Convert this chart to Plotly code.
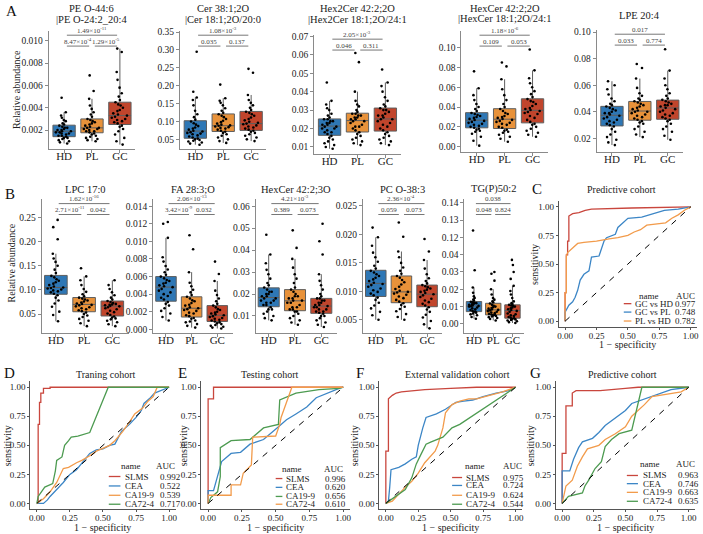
import plotly.graph_objects as go

W, H = 703, 534
SERIF = "Liberation Serif"

GROUPS = ["HD", "PL", "GC"]
BOX_FILL = ["#2e77b5", "#e8923a", "#c1452c"]
RED, BLUE, ORANGE, GREEN = "#c9463d", "#3c86c6", "#f29b4b", "#4d9b51"

# ===================== box-plot data =====================
PANEL_NAMES = ["PE O-44:6", "Cer 38:1;2O", "Hex2Cer 42:2;2O", "HexCer 42:2;2O", "LPE 20:4",
               "LPC 17:0", "FA 28:3;O", "HexCer 42:2;3O", "PC O-38:3", "TG(P)50:2"]
PANEL_SUB = ["|PE O-24:2_20:4", "|Cer 18:1;2O/20:0", "|Hex2Cer 18:1;2O/24:1",
             "|HexCer 18:1;2O/24:1", "", "", "", "", "", ""]
P_HD_GC = ["1.49×10<sup>-11</sup>", "1.08×10<sup>-3</sup>", "2.05×10<sup>-3</sup>", "1.18×10<sup>-6</sup>", "0.017",
           "1.62×10<sup>-16</sup>", "2.06×10<sup>-13</sup>", "4.21×10<sup>-3</sup>", "2.36×10<sup>-4</sup>", "0.038"]
P_HD_PL = ["8.47×10<sup>-4</sup>", "0.035", "0.046", "0.109", "0.033",
           "2.71×10<sup>-11</sup>", "3.42×10<sup>-9</sup>", "0.389", "0.059", "0.048"]
P_PL_GC = ["1.29×10<sup>-5</sup>", "0.137", "0.311", "0.053", "0.774",
           "0.042", "0.032", "0.073", "0.073", "0.824"]

PE_HD = [0.0008,0.0009,0.0010,0.0011,0.0012,0.0013,0.0013,0.0014,0.0015,0.0015,0.0016,0.0017,0.0017,0.0018,0.0018,0.0019,
         0.0019,0.0020,0.0020,0.0021,0.0022,0.0022,0.0023,0.0024,0.0025,0.0026,0.0028,0.0029,0.0031,0.0033,0.0036,0.0049]
PE_PL = [0.0010,0.0011,0.0012,0.0013,0.0014,0.0015,0.0016,0.0017,0.0018,0.0019,0.0019,0.0020,0.0021,0.0021,0.0022,0.0022,
         0.0023,0.0024,0.0025,0.0026,0.0027,0.0028,0.0029,0.0030,0.0032,0.0034,0.0036,0.0039,0.0042,0.0048,0.0055,0.0069]
PE_GC = [0.0007,0.0010,0.0013,0.0016,0.0019,0.0021,0.0023,0.0024,0.0026,0.0027,0.0028,0.0029,0.0030,0.0031,0.0032,0.0033,
         0.0034,0.0035,0.0037,0.0038,0.0040,0.0042,0.0043,0.0045,0.0047,0.0050,0.0053,0.0058,0.0065,0.0072,0.0090,0.0093]
PE_STATS = [[0.0008,0.00141,0.0019,0.00244,0.0036],[0.0010,0.00176,0.0022,0.0030,0.0048],[0.0007,0.0025,0.0033,0.0045,0.0093]]

CER_HD = [0.035,0.038,0.041,0.044,0.046,0.048,0.050,0.052,0.055,0.058,0.061,0.064,0.066,0.068,0.070,0.072,
          0.074,0.077,0.080,0.083,0.087,0.091,0.095,0.100,0.105,0.112,0.120,0.130,0.145,0.160,0.167,0.183,0.295]
CER_PL = [0.040,0.045,0.050,0.055,0.060,0.064,0.068,0.071,0.074,0.077,0.080,0.082,0.084,0.086,0.088,0.089,
          0.091,0.094,0.098,0.102,0.107,0.112,0.116,0.120,0.124,0.130,0.137,0.145,0.152,0.158,0.165,0.203]
CER_GC = [0.045,0.050,0.055,0.060,0.064,0.068,0.071,0.074,0.077,0.080,0.083,0.086,0.089,0.092,0.094,0.096,
          0.099,0.103,0.107,0.111,0.116,0.120,0.124,0.127,0.132,0.138,0.145,0.152,0.160,0.174,0.236,0.247]
CER_STATS = [[0.035,0.053,0.073,0.102,0.167],[0.040,0.072,0.088,0.121,0.165],[0.045,0.075,0.094,0.128,0.174]]

HEX2_HD = [0.009,0.010,0.011,0.012,0.013,0.014,0.015,0.016,0.017,0.018,0.018,0.019,0.020,0.020,0.021,0.021,
           0.022,0.022,0.023,0.023,0.024,0.024,0.025,0.025,0.026,0.027,0.028,0.030,0.031,0.033,0.035,0.045]
HEX2_PL = [0.011,0.012,0.013,0.014,0.015,0.016,0.017,0.018,0.019,0.020,0.021,0.021,0.022,0.023,0.024,0.024,
           0.025,0.025,0.026,0.026,0.027,0.027,0.028,0.028,0.029,0.030,0.032,0.033,0.035,0.040,0.056,0.061]
HEX2_GC = [0.011,0.012,0.013,0.014,0.015,0.016,0.017,0.018,0.019,0.020,0.021,0.022,0.023,0.024,0.025,0.025,
           0.026,0.027,0.027,0.028,0.029,0.030,0.030,0.031,0.032,0.033,0.035,0.037,0.040,0.043,0.045,0.052]
HEX2_STATS = [[0.009,0.0163,0.0213,0.0252,0.035],[0.011,0.0181,0.0243,0.0283,0.040],[0.011,0.0186,0.0252,0.0311,0.045]]

HEX_HD = [0.001,0.006,0.010,0.013,0.015,0.016,0.017,0.018,0.019,0.020,0.021,0.022,0.023,0.024,0.025,0.026,
          0.027,0.028,0.029,0.030,0.031,0.032,0.033,0.034,0.036,0.038,0.040,0.043,0.047,0.052,0.059,0.076]
HEX_PL = [0.005,0.008,0.010,0.012,0.014,0.015,0.016,0.017,0.019,0.020,0.022,0.023,0.024,0.025,0.026,0.027,
          0.028,0.029,0.030,0.031,0.033,0.034,0.036,0.038,0.040,0.043,0.047,0.052,0.058,0.068,0.081,0.085]
HEX_GC = [0.010,0.012,0.014,0.016,0.018,0.020,0.022,0.023,0.025,0.027,0.029,0.031,0.033,0.034,0.035,0.036,
          0.037,0.038,0.039,0.041,0.043,0.045,0.046,0.048,0.050,0.053,0.056,0.060,0.064,0.069,0.077,0.098]
HEX_STATS = [[0.001,0.019,0.0267,0.0343,0.059],[0.005,0.0183,0.0277,0.0383,0.068],[0.010,0.024,0.0367,0.0483,0.077]]

LPE_HD = [0.015,0.017,0.019,0.021,0.023,0.025,0.027,0.029,0.030,0.031,0.032,0.033,0.034,0.035,0.036,0.037,
          0.038,0.039,0.039,0.040,0.041,0.042,0.043,0.044,0.045,0.046,0.048,0.050,0.053,0.057,0.060,0.063]
LPE_PL = [0.021,0.023,0.025,0.027,0.029,0.031,0.032,0.033,0.034,0.035,0.036,0.037,0.038,0.039,0.040,0.040,
          0.041,0.042,0.043,0.044,0.045,0.046,0.047,0.048,0.049,0.050,0.052,0.054,0.058,0.065,0.073,0.076]
LPE_GC = [0.019,0.022,0.025,0.027,0.029,0.031,0.033,0.034,0.035,0.036,0.037,0.038,0.039,0.040,0.041,0.042,
          0.043,0.044,0.045,0.045,0.046,0.047,0.048,0.049,0.050,0.052,0.054,0.057,0.060,0.065,0.071,0.087]
LPE_STATS = [[0.015,0.0294,0.0374,0.0441,0.063],[0.021,0.0337,0.0406,0.0478,0.065],[0.019,0.0344,0.0429,0.0488,0.071]]

LPC_HD = [0.035,0.048,0.055,0.065,0.072,0.078,0.084,0.089,0.092,0.095,0.097,0.099,0.101,0.103,0.104,0.105,
          0.107,0.110,0.113,0.116,0.119,0.122,0.126,0.129,0.135,0.142,0.150,0.158,0.165,0.175,0.205,0.230,0.245]
LPC_PL = [0.025,0.031,0.036,0.040,0.044,0.047,0.050,0.053,0.056,0.058,0.060,0.062,0.064,0.066,0.068,0.069,
          0.071,0.072,0.074,0.076,0.078,0.080,0.082,0.084,0.087,0.091,0.096,0.102,0.110,0.120,0.128,0.145]
LPC_GC = [0.025,0.029,0.033,0.036,0.039,0.041,0.043,0.045,0.048,0.051,0.054,0.057,0.060,0.062,0.064,0.066,
          0.067,0.068,0.069,0.070,0.071,0.073,0.075,0.077,0.080,0.084,0.089,0.095,0.102,0.110,0.120]
LPC_STATS = [[0.035,0.091,0.105,0.130,0.175],[0.025,0.0548,0.070,0.0842,0.128],[0.025,0.046,0.0665,0.077,0.120]]

FA_HD = [0.0010,0.0014,0.0018,0.0021,0.0024,0.0027,0.0029,0.0031,0.0034,0.0036,0.0038,0.0040,0.0042,0.0044,0.0046,0.0048,
         0.0049,0.0050,0.0052,0.0053,0.0055,0.0056,0.0058,0.0060,0.0062,0.0065,0.0068,0.0072,0.0077,0.0082,0.0104,0.0120,0.0122]
FA_PL = [0.0002,0.0004,0.0006,0.0008,0.0009,0.0010,0.0012,0.0013,0.0015,0.0016,0.0018,0.0019,0.0021,0.0022,0.0023,0.0024,
         0.0025,0.0027,0.0028,0.0030,0.0032,0.0033,0.0035,0.0037,0.0039,0.0042,0.0045,0.0049,0.0053,0.0065,0.0091,0.0107]
FA_GC = [0.0001,0.0002,0.0003,0.0004,0.0005,0.0006,0.0007,0.0008,0.0009,0.0010,0.0011,0.0012,0.0013,0.0014,0.0015,0.0016,
         0.0017,0.0018,0.0019,0.0020,0.0022,0.0023,0.0025,0.0027,0.0029,0.0032,0.0035,0.0039,0.0044,0.0055,0.0063,0.0077]
FA_STATS = [[0.0010,0.0032,0.0048,0.0060,0.0104],[0.0002,0.0014,0.0024,0.0037,0.0065],[0.0001,0.0009,0.0016,0.0027,0.0055]]

HEX3_HD = [0.008,0.009,0.010,0.011,0.012,0.013,0.013,0.014,0.015,0.015,0.016,0.016,0.017,0.017,0.018,0.018,
           0.019,0.019,0.020,0.020,0.021,0.021,0.022,0.023,0.024,0.025,0.027,0.029,0.031,0.034,0.038,0.047]
HEX3_PL = [0.006,0.007,0.008,0.009,0.010,0.011,0.012,0.012,0.013,0.013,0.014,0.014,0.015,0.016,0.016,0.017,
           0.017,0.018,0.018,0.019,0.019,0.020,0.021,0.022,0.023,0.025,0.027,0.029,0.032,0.036,0.041,0.049]
HEX3_GC = [0.005,0.006,0.007,0.008,0.009,0.010,0.010,0.011,0.0115,0.012,0.012,0.013,0.013,0.014,0.014,0.0145,
           0.015,0.015,0.016,0.016,0.017,0.017,0.018,0.018,0.019,0.020,0.022,0.024,0.026,0.029,0.038,0.044,0.052]
HEX3_STATS = [[0.008,0.0142,0.0184,0.0228,0.038],[0.006,0.0124,0.0169,0.022,0.036],[0.005,0.0112,0.0145,0.018,0.029]]

PC_HD = [0.0050,0.0058,0.0064,0.0070,0.0075,0.0080,0.0085,0.0089,0.0093,0.0096,0.0099,0.0102,0.0105,0.0108,0.0111,0.0113,
         0.0115,0.0118,0.0121,0.0124,0.0127,0.0130,0.0133,0.0136,0.0140,0.0145,0.0152,0.0160,0.0168,0.0180,0.0195,0.0212]
PC_PL = [0.0050,0.0055,0.0060,0.0065,0.0069,0.0073,0.0076,0.0079,0.0082,0.0085,0.0088,0.0091,0.0094,0.0096,0.0098,0.0099,
         0.0101,0.0104,0.0108,0.0112,0.0116,0.0120,0.0124,0.0127,0.0131,0.0136,0.0142,0.0150,0.0160,0.0170,0.0196,0.0221]
PC_GC = [0.0035,0.0042,0.0048,0.0054,0.0059,0.0064,0.0068,0.0072,0.0075,0.0078,0.0081,0.0084,0.0087,0.0090,0.0093,0.0095,
         0.0097,0.0099,0.0101,0.0103,0.0105,0.0107,0.0109,0.0111,0.0114,0.0118,0.0123,0.0130,0.0140,0.0155,0.0170,0.0192]
PC_STATS = [[0.005,0.0091,0.0114,0.0137,0.0195],[0.005,0.008,0.0099,0.0127,0.017],[0.0035,0.0073,0.0095,0.0111,0.0155]]

TG_HD = [0.003,0.004,0.005,0.0055,0.006,0.0065,0.007,0.0072,0.0075,0.008,0.0085,0.009,0.0095,0.010,0.0102,0.0104,
         0.0106,0.011,0.0113,0.0116,0.012,0.0122,0.0125,0.0128,0.0135,0.014,0.015,0.016,0.018,0.021,0.031,0.124]
TG_PL = [0.002,0.0028,0.0034,0.0039,0.0043,0.0046,0.0049,0.0051,0.0054,0.0058,0.0062,0.0066,0.007,0.0074,0.0078,0.0081,
         0.0084,0.0088,0.0092,0.0096,0.010,0.0105,0.011,0.0118,0.0125,0.013,0.014,0.015,0.017,0.020,0.025,0.029,0.030]
TG_GC = [0.0005,0.001,0.0015,0.002,0.0023,0.0026,0.003,0.0032,0.0036,0.004,0.0045,0.005,0.0055,0.006,0.007,0.0075,
         0.008,0.0085,0.009,0.0095,0.010,0.0103,0.0106,0.011,0.0115,0.012,0.013,0.015,0.017,0.019,0.022,0.026,0.030,0.034,0.037]
TG_STATS = [[0.003,0.0071,0.0104,0.0129,0.021],[0.002,0.0052,0.0081,0.0119,0.020],[0.0005,0.0033,0.0077,0.011,0.022]]
TG_TICK_VALUES = [0.00, 0.01, 0.02, 0.03, 0.04, 0.12, 0.13, 0.14]
TG_TICK_LABELS = ["0.00", "0.01", "0.02", "0.03", "0.04", "0.12", "0.13", "0.14"]

PANEL_VALUES = [[PE_HD, PE_PL, PE_GC], [CER_HD, CER_PL, CER_GC], [HEX2_HD, HEX2_PL, HEX2_GC],
                [HEX_HD, HEX_PL, HEX_GC], [LPE_HD, LPE_PL, LPE_GC], [LPC_HD, LPC_PL, LPC_GC],
                [FA_HD, FA_PL, FA_GC], [HEX3_HD, HEX3_PL, HEX3_GC], [PC_HD, PC_PL, PC_GC], [TG_HD, TG_PL, TG_GC]]
PANEL_STATS = [PE_STATS, CER_STATS, HEX2_STATS, HEX_STATS, LPE_STATS,
               LPC_STATS, FA_STATS, HEX3_STATS, PC_STATS, TG_STATS]


def tg_pos(v):
    # broken y axis of the TG(P)50:2 panel (0.045-0.115 is cut out)
    return v - 0.07 if v > 0.08 else v


# ===================== ROC data =====================
C_GC_HD_FPR = [0, 0, 0.01, 0.01, 0.02, 0.02, 0.03, 0.03, 0.06, 0.11, 0.16, 0.21, 0.53, 0.82, 1.0]
C_GC_HD_TPR = [0, 0.25, 0.25, 0.58, 0.58, 0.70, 0.70, 0.92, 0.94, 0.95, 0.97, 0.98, 0.99, 1.0, 1.0]
C_GC_PL_FPR = [0, 0, 0.03, 0.06, 0.08, 0.10, 0.12, 0.15, 0.19, 0.21, 0.27, 0.29, 0.31, 0.33, 0.40, 0.42, 0.45, 0.50, 0.61, 0.71, 0.79, 0.90, 1.0]
C_GC_PL_TPR = [0, 0.08, 0.14, 0.17, 0.21, 0.27, 0.36, 0.41, 0.44, 0.56, 0.57, 0.63, 0.70, 0.73, 0.76, 0.82, 0.85, 0.90, 0.91, 0.94, 0.97, 0.98, 1.0]
C_PL_HD_FPR = [0, 0, 0.01, 0.01, 0.02, 0.05, 0.08, 0.10, 0.15, 0.25, 0.35, 0.42, 0.50, 0.55, 0.60, 0.65, 0.80, 0.85, 0.90, 0.95, 1.0]
C_PL_HD_TPR = [0, 0.25, 0.25, 0.57, 0.60, 0.63, 0.66, 0.68, 0.69, 0.70, 0.72, 0.73, 0.75, 0.78, 0.80, 0.84, 0.86, 0.90, 0.93, 0.97, 1.0]
C_NAMES = ["GC vs HD", "GC vs PL", "PL vs HD"]
C_AUC = ["0.977", "0.748", "0.782"]

MARKERS = ["SLMS", "CEA", "CA19-9", "CA72-4"]

D_SLMS_FPR = [0, 0.01, 0.01, 0.02, 0.02, 0.03, 0.03, 0.05, 0.05, 0.10, 0.10, 1.0]
D_SLMS_TPR = [0, 0, 0.68, 0.68, 0.87, 0.87, 0.95, 0.95, 0.99, 0.99, 1.0, 1.0]
D_CEA_FPR = [0, 0.05, 0.08, 0.10, 0.15, 0.20, 0.25, 0.30, 0.35, 0.40, 0.45, 0.50, 0.55, 0.59, 0.64, 0.70, 0.75, 0.79, 0.81, 0.85, 0.89, 0.95, 1.0]
D_CEA_TPR = [0, 0, 0.03, 0.06, 0.12, 0.18, 0.25, 0.29, 0.36, 0.43, 0.46, 0.47, 0.50, 0.51, 0.62, 0.68, 0.74, 0.80, 0.86, 0.90, 0.95, 0.98, 1.0]
D_CA199_FPR = [0, 0.05, 0.10, 0.15, 0.20, 0.24, 0.30, 0.34, 0.40, 0.45, 0.49, 0.55, 0.59, 0.65, 0.70, 0.74, 0.80, 0.84, 0.88, 0.91, 1.0]
D_CA199_TPR = [0, 0.04, 0.10, 0.18, 0.30, 0.31, 0.35, 0.37, 0.41, 0.45, 0.47, 0.50, 0.54, 0.62, 0.70, 0.77, 0.82, 0.88, 0.92, 1.0, 1.0]
D_CA724_FPR = [0, 0.01, 0.06, 0.10, 0.12, 0.14, 0.15, 0.19, 0.21, 0.24, 0.26, 0.31, 0.38, 0.40, 0.54, 1.0]
D_CA724_TPR = [0, 0.06, 0.14, 0.16, 0.17, 0.28, 0.37, 0.40, 0.50, 0.54, 0.57, 0.58, 0.60, 0.61, 1.0, 1.0]
D_AUC = ["0.992", "0.522", "0.539", "0.717"]

E_SLMS_FPR = [0, 0, 0.04, 0.04, 1.0]
E_SLMS_TPR = [0, 0.90, 0.90, 1.0, 1.0]
E_CEA_FPR = [0, 0, 0.04, 0.07, 0.10, 0.17, 0.24, 0.31, 0.41, 0.51, 0.58, 0.65, 0.73, 0.80, 0.92, 0.97, 1.0]
E_CEA_TPR = [0, 0.11, 0.11, 0.23, 0.36, 0.43, 0.44, 0.51, 0.55, 0.65, 0.72, 0.77, 0.83, 0.91, 0.97, 0.99, 1.0]
E_CA199_FPR = [0, 0.02, 0.07, 0.09, 0.09, 0.17, 0.31, 0.41, 0.52, 0.53, 0.65, 0.82, 0.97, 1.0]
E_CA199_TPR = [0, 0.05, 0.10, 0.23, 0.48, 0.54, 0.55, 0.65, 0.68, 0.89, 0.95, 0.98, 0.99, 1.0]
E_CA724_FPR = [0, 0, 0.17, 0.17, 0.24, 0.26, 0.32, 0.33, 0.50, 0.53, 0.54, 0.62, 1.0]
E_CA724_TPR = [0, 0.07, 0.07, 0.16, 0.16, 0.26, 0.33, 0.57, 0.58, 0.68, 0.74, 1.0, 1.0]
E_AUC = ["0.996", "0.620", "0.656", "0.610"]

F_SLMS_FPR = [0, 0, 0.02, 0.02, 0.05, 0.08, 0.12, 0.20, 0.30, 0.50, 0.70, 1.0]
F_SLMS_TPR = [0, 0.45, 0.45, 0.90, 0.93, 0.95, 0.96, 0.97, 0.98, 0.99, 1.0, 1.0]
F_CEA_FPR = [0, 0.02, 0.03, 0.04, 0.10, 0.15, 0.20, 0.235, 0.25, 0.27, 0.285, 0.31, 0.39, 0.46, 0.54, 0.60, 0.67, 0.75, 0.85, 0.95, 1.0]
F_CEA_TPR = [0, 0.02, 0.14, 0.29, 0.31, 0.34, 0.38, 0.40, 0.50, 0.60, 0.65, 0.74, 0.77, 0.81, 0.87, 0.88, 0.89, 0.92, 0.95, 0.97, 1.0]
F_CA199_FPR = [0, 0.05, 0.10, 0.15, 0.20, 0.25, 0.30, 0.34, 0.38, 0.40, 0.44, 0.46, 0.51, 0.57, 0.64, 0.70, 0.80, 0.90, 1.0]
F_CA199_TPR = [0, 0.02, 0.08, 0.14, 0.19, 0.26, 0.35, 0.40, 0.45, 0.50, 0.65, 0.78, 0.85, 0.88, 0.90, 0.90, 0.93, 0.96, 1.0]
F_CA724_FPR = [0, 0.05, 0.10, 0.15, 0.20, 0.235, 0.27, 0.31, 0.35, 0.44, 0.51, 0.57, 1.0]
F_CA724_TPR = [0, 0.04, 0.08, 0.12, 0.22, 0.34, 0.42, 0.51, 0.53, 0.57, 0.65, 0.68, 1.0]
F_AUC = ["0.975", "0.724", "0.624", "0.544"]

G_SLMS_FPR = [0, 0, 0.03, 0.03, 0.08, 0.08, 0.11, 0.30, 0.50, 0.60, 1.0]
G_SLMS_TPR = [0, 0.43, 0.43, 0.84, 0.84, 0.95, 0.97, 0.97, 0.99, 1.0, 1.0]
G_CEA_FPR = [0, 0, 0.06, 0.09, 0.13, 0.16, 0.24, 0.29, 0.34, 0.39, 0.45, 0.50, 0.55, 0.65, 0.76, 0.86, 1.0]
G_CEA_TPR = [0, 0.28, 0.28, 0.38, 0.48, 0.53, 0.56, 0.61, 0.67, 0.71, 0.76, 0.80, 0.86, 0.90, 0.94, 0.98, 1.0]
G_CA199_FPR = [0, 0.01, 0.03, 0.08, 0.12, 0.16, 0.20, 0.29, 0.34, 0.42, 0.50, 0.55, 0.60, 0.65, 0.71, 0.86, 0.94, 1.0]
G_CA199_TPR = [0, 0.05, 0.15, 0.20, 0.32, 0.40, 0.47, 0.50, 0.55, 0.60, 0.66, 0.75, 0.80, 0.85, 0.92, 0.95, 0.96, 1.0]
G_CA724_FPR = [0, 0.05, 0.16, 0.18, 0.21, 0.26, 0.31, 0.34, 0.39, 0.45, 0.55, 0.63, 1.0]
G_CA724_TPR = [0, 0.06, 0.09, 0.15, 0.20, 0.30, 0.36, 0.49, 0.55, 0.60, 0.63, 1.0, 1.0]
G_AUC = ["0.963", "0.746", "0.663", "0.635"]

ROC_PANELS = [
    dict(title="Predictive cohort", names=C_NAMES, aucs=C_AUC, colors=[RED, BLUE, ORANGE],
         curves=[(C_GC_HD_FPR, C_GC_HD_TPR), (C_GC_PL_FPR, C_GC_PL_TPR), (C_PL_HD_FPR, C_PL_HD_TPR)]),
    dict(title="Traning cohort", names=MARKERS, aucs=D_AUC, colors=[RED, BLUE, ORANGE, GREEN],
         curves=[(D_SLMS_FPR, D_SLMS_TPR), (D_CEA_FPR, D_CEA_TPR), (D_CA199_FPR, D_CA199_TPR), (D_CA724_FPR, D_CA724_TPR)]),
    dict(title="Testing cohort", names=MARKERS, aucs=E_AUC, colors=[RED, BLUE, GREEN, ORANGE],
         curves=[(E_SLMS_FPR, E_SLMS_TPR), (E_CEA_FPR, E_CEA_TPR), (E_CA199_FPR, E_CA199_TPR), (E_CA724_FPR, E_CA724_TPR)]),
    dict(title="External validation cohort", names=MARKERS, aucs=F_AUC, colors=[RED, BLUE, ORANGE, GREEN],
         curves=[(F_SLMS_FPR, F_SLMS_TPR), (F_CEA_FPR, F_CEA_TPR), (F_CA199_FPR, F_CA199_TPR), (F_CA724_FPR, F_CA724_TPR)]),
    dict(title="Predictive cohort", names=MARKERS, aucs=G_AUC, colors=[RED, BLUE, ORANGE, GREEN],
         curves=[(G_SLMS_FPR, G_SLMS_TPR), (G_CEA_FPR, G_CEA_TPR), (G_CA199_FPR, G_CA199_TPR), (G_CA724_FPR, G_CA724_TPR)]),
]
ROC_TICKS = [0, 0.25, 0.5, 0.75, 1.0]

# ===================== layout geometry (pixels) =====================
# left, right, top, bottom, x-range, y-range, dtick, format
BOX_GEOM = [
    (47, 134, 28, 147, [-0.55, 2.55], [0.00034, 0.0109], 0.002, ".3f"),
    (179, 266, 28, 147, [-0.55, 2.55], [0.024, 0.3536], 0.05, ".2f"),
    (314, 401, 32, 152, [-0.55, 2.55], [0.0064, 0.0709], 0.01, ".2f"),
    (462, 549, 28, 150, [-0.55, 2.55], [-0.005, 0.117], 0.02, ".2f"),
    (598, 685, 27, 150, [-0.55, 2.55], [0.0101, 0.1017], 0.02, ".2f"),
    (40, 128, 198, 333, [-0.5, 2.6], [0.011, 0.288], 0.05, ".2f"),
    (152, 232, 198, 333, [-0.5, 2.6], [-0.0004, 0.0148], 0.002, ".3f"),
    (255, 337, 198, 333, [-0.5, 2.6], [0.0023, 0.0632], 0.01, ".2f"),
    (363, 443, 198, 333, [-0.5, 2.6], [0.0027, 0.0262], 0.005, ".3f"),
    (465, 525, 198, 333, [-0.5, 2.6], [-0.0052, 0.0721], None, None),
]
TITLE_Y = [(6, 16.5), (6, 16.5), (6, 16.5), (5.5, 16), (12.5, None),
           (188, None), (188, None), (188, None), (188, None), (188, None)]

ROC_GEOM = [(560, 699, 200, 327), (28.4, 174.7, 382, 511), (200.5, 350, 382, 511),
            (379.5, 523, 382, 511), (557, 697, 382, 511)]
ROC_TITLE_POS = [(623, 188), (105, 375), (270, 375), (458, 375), (624, 375)]
ROC_YLAB_X = [535, 5, 182, 354, 531]
ROC_XLAB_Y = [345, 529, 529, 529, 529]
# legend: key x0,x1, label x, value x, "name" x, "AUC" x, header y, row ys (domain fractions)
ROC_LEG = [
    (0.47, 0.525, 0.54, 0.828, 0.65, 0.92, 0.244, [0.185, 0.118, 0.047]),
    (0.54, 0.62, 0.638, 0.88, 0.69, 0.93, 0.341, [0.256, 0.182, 0.109, 0.039]),
    (0.50, 0.545, 0.553, 0.82, 0.61, 0.89, 0.318, [0.24, 0.171, 0.10, 0.039]),
    (0.51, 0.58, 0.596, 0.854, 0.67, 0.93, 0.34, [0.248, 0.186, 0.109, 0.039]),
    (0.51, 0.59, 0.614, 0.864, 0.68, 0.93, 0.357, [0.264, 0.2, 0.132, 0.062]),
]

PANEL_LETTERS = [("A", 10, 8), ("B", 8, 193), ("C", 538, 188), ("D", 8, 373),
                 ("E", 182, 373), ("F", 360, 373), ("G", 537, 373)]

# ===================== build figure =====================
fig = go.Figure()
layout = {}
annotations = []
shapes = []


def names(k):
    s = "" if k == 1 else str(k)
    return "x" + s, "y" + s, "xaxis" + s, "yaxis" + s


def dom(l, r, t, b):
    return [l / W, r / W], [1 - b / H, 1 - t / H]


AX_BOX = "#8a8a8a"
AX_ROC = "#555555"

for i in range(10):
    k = i + 1
    xr, yr, xa, ya = names(k)
    l, r, t, b, xrng, yrng, dtick, fmt = BOX_GEOM[i]
    xd, yd = dom(l, r, t, b)
    conv = tg_pos if i == 9 else (lambda v: v)
    for j in range(3):
        s = PANEL_STATS[i][j]
        fig.add_trace(go.Box(
            x=[j], lowerfence=[s[0]], q1=[s[1]], median=[s[2]], q3=[s[3]], upperfence=[s[4]],
            width=0.8, fillcolor=BOX_FILL[j], line=dict(color="#5e5e5e", width=1),
            whiskerwidth=0, boxpoints=False, xaxis=xr, yaxis=yr, hoverinfo="skip"))
    for j in range(3):
        vals = [conv(v) for v in PANEL_VALUES[i][j]]
        fig.add_trace(go.Box(
            y=vals, x0=j, width=0.8, boxpoints="all", jitter=0.75, pointpos=0,
            fillcolor="rgba(0,0,0,0)", line=dict(color="rgba(0,0,0,0)", width=0),
            marker=dict(color="black", size=2.6), xaxis=xr, yaxis=yr, hoverinfo="skip"))
    layout[xa] = dict(domain=xd, range=xrng, anchor=yr, tickvals=[0, 1, 2], ticktext=GROUPS,
                      showline=True, linecolor=AX_BOX, linewidth=1, ticks="outside", ticklen=3,
                      tickcolor=AX_BOX, showgrid=False, zeroline=False, ticklabelstandoff=-6,
                      tickfont=dict(family=SERIF, size=11, color="#222"))
    yax = dict(domain=yd, range=yrng, anchor=xr, showline=True, linecolor=AX_BOX, linewidth=1,
               ticks="outside", ticklen=3, tickcolor=AX_BOX, showgrid=False, zeroline=False,
               tickfont=dict(family=SERIF, size=9.5, color="#222"))
    if dtick is None:
        yax.update(tickvals=[tg_pos(v) for v in TG_TICK_VALUES], ticktext=TG_TICK_LABELS)
    else:
        yax.update(dtick=dtick, tick0=0, tickformat=fmt)
    layout[ya] = yax

    # significance brackets
    h = b - t
    ytop = 1 - 4.5 / h
    ylow = 1 - 15.5 / h
    for (x0, x1, yy, txt) in [(0.1, 1.9, ytop, P_HD_GC[i]), (0.1, 0.9, ylow, P_HD_PL[i]),
                              (1.1, 1.9, ylow, P_PL_GC[i])]:
        shapes.append(dict(type="line", xref=xr, yref=yr + " domain",
                           x0=x0, x1=x1, y0=yy, y1=yy, line=dict(color="#777", width=1)))
        annotations.append(dict(xref=xr, yref=yr + " domain", x=(x0 + x1) / 2, y=yy,
                                yanchor="bottom", xanchor="center", showarrow=False, text=txt,
                                yshift=-1.5, font=dict(family=SERIF, size=7, color="#444")))
    # titles
    ty1, ty2 = TITLE_Y[i]
    annotations.append(dict(xref=xr + " domain", yref="paper", x=0.5, y=1 - ty1 / H,
                            xanchor="center", yanchor="middle", showarrow=False,
                            text=PANEL_NAMES[i], font=dict(family=SERIF, size=10.5, color="#222")))
    if ty2 is not None:
        annotations.append(dict(xref=xr + " domain", yref="paper", x=0.5, y=1 - ty2 / H,
                                xanchor="center", yanchor="middle", showarrow=False,
                                text=PANEL_SUB[i], font=dict(family=SERIF, size=10.5, color="#222")))

# y titles of the box rows
for (px, py) in [(14, 87), (10, 262)]:
    annotations.append(dict(xref="paper", yref="paper", x=px / W, y=1 - py / H, textangle=-90,
                            xanchor="center", yanchor="middle", showarrow=False,
                            text="Relative abundance", font=dict(family=SERIF, size=10, color="#222")))

for n, p in enumerate(ROC_PANELS):
    k = 11 + n
    xr, yr, xa, ya = names(k)
    l, r, t, b = ROC_GEOM[n]
    xd, yd = dom(l, r, t, b)
    for (fpr, tpr), col in zip(p["curves"], p["colors"]):
        fig.add_trace(go.Scatter(x=fpr, y=tpr, mode="lines", line=dict(color=col, width=1.3),
                                 xaxis=xr, yaxis=yr, hoverinfo="skip"))
    fig.add_trace(go.Scatter(x=[0, 1], y=[0, 1], mode="lines",
                             line=dict(color="black", width=1, dash="6px,6px"),
                             xaxis=xr, yaxis=yr, hoverinfo="skip"))
    common = dict(showline=True, linecolor=AX_ROC, linewidth=1, ticks="outside", ticklen=2,
                  tickcolor=AX_ROC, showgrid=False, zeroline=False, range=[-0.05, 1.05],
                  tickvals=ROC_TICKS, tickformat=".2f",
                  tickfont=dict(family=SERIF, size=9, color="#222"))
    layout[xa] = dict(domain=xd, anchor=yr, ticklabelstandoff=-2, **common)
    layout[ya] = dict(domain=yd, anchor=xr, **common)

    tx, ty = ROC_TITLE_POS[n]
    annotations.append(dict(xref="paper", yref="paper", x=tx / W, y=1 - ty / H, xanchor="center",
                            yanchor="middle", showarrow=False, text=p["title"],
                            font=dict(family=SERIF, size=10, color="#222")))
    annotations.append(dict(xref="paper", yref="paper", x=ROC_YLAB_X[n] / W, y=1 - (t + b) / 2 / H,
                            textangle=-90, xanchor="center", yanchor="middle", showarrow=False,
                            text="sensitivity", font=dict(family=SERIF, size=10, color="#222")))
    annotations.append(dict(xref="paper", yref="paper", x=(l + r) / 2 / W, y=1 - ROC_XLAB_Y[n] / H,
                            xanchor="center", yanchor="middle", showarrow=False,
                            text="1 − specificity", font=dict(family=SERIF, size=10, color="#222")))
    # legend
    kx0, kx1, lx, vx, nx, ax_, hy, rows = ROC_LEG[n]
    xdr, ydr = xr + " domain", yr + " domain"
    lf = dict(family=SERIF, size=9, color="#222")
    annotations.append(dict(xref=xdr, yref=ydr, x=nx, y=hy, xanchor="center", yanchor="middle",
                            showarrow=False, text="name", font=lf))
    annotations.append(dict(xref=xdr, yref=ydr, x=ax_, y=hy, xanchor="center", yanchor="middle",
                            showarrow=False, text="AUC", font=lf))
    for nm, auc, col, ry in zip(p["names"], p["aucs"], p["colors"], rows):
        shapes.append(dict(type="line", xref=xdr, yref=ydr, x0=kx0, x1=kx1, y0=ry, y1=ry,
                           line=dict(color=col, width=1.3)))
        annotations.append(dict(xref=xdr, yref=ydr, x=lx, y=ry, xanchor="left", yanchor="middle",
                                showarrow=False, text=nm, font=lf))
        annotations.append(dict(xref=xdr, yref=ydr, x=vx, y=ry, xanchor="left", yanchor="middle",
                                showarrow=False, text=auc, font=lf))

for (L, px, py) in PANEL_LETTERS:
    annotations.append(dict(xref="paper", yref="paper", x=px / W, y=1 - py / H, xanchor="center",
                            yanchor="middle", showarrow=False, text=L,
                            font=dict(family=SERIF, size=15, color="#111")))

fig.update_layout(
    width=W, height=H, margin=dict(l=0, r=0, t=0, b=0), autosize=False,
    paper_bgcolor="white", plot_bgcolor="white", showlegend=False, boxmode="overlay",
    annotations=annotations, shapes=shapes, font=dict(family=SERIF), **layout)

fig.write_html("out.html", config={"displayModeBar": False},
               post_script="document.body.style.margin='0px';")
